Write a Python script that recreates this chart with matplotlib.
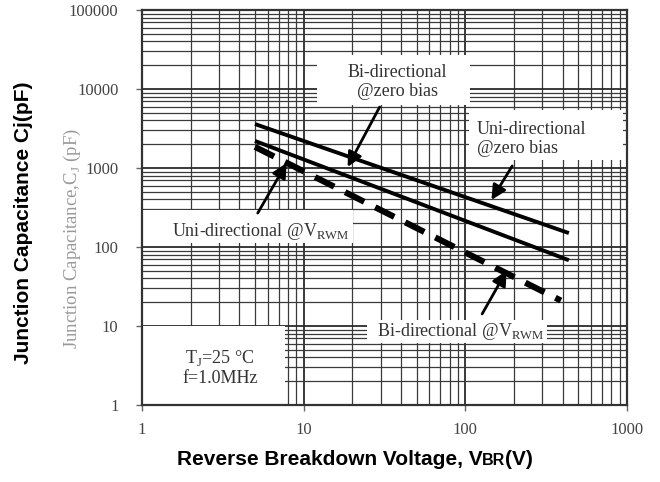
import numpy as np
import matplotlib
matplotlib.use("Agg")
import matplotlib.pyplot as plt
from matplotlib.patches import Rectangle
from matplotlib.ticker import LogLocator, NullFormatter, FixedLocator, FixedFormatter

# data
vbr_zero = [5, 437]
uni_zero_bias = [3600, 150]
bi_zero_bias = [2200, 68]
vbr_rwm = [5, 390]
cap_rwm = [1850, 21]

x_ticks = [1, 10, 100, 1000]
x_tick_labels = ["1", "10", "100", "1000"]
y_ticks = [1, 10, 100, 1000, 10000, 100000]
y_tick_labels = ["1", "10", "100", "1000", "10000", "100000"]

serif = "Liberation Serif"
sans = "Liberation Sans"
plt.rcParams["font.family"] = serif

fig = plt.figure(figsize=(6.6, 4.82), dpi=100)
ax = fig.add_axes([142 / 660, 77 / 482, 485 / 660, 395 / 482])
ax.set_xscale("log")
ax.set_yscale("log")
ax.set_xlim(1, 1000)
ax.set_ylim(1, 100000)

ax.xaxis.set_major_locator(FixedLocator(x_ticks))
ax.yaxis.set_major_locator(FixedLocator(y_ticks))
ax.xaxis.set_major_formatter(FixedFormatter(x_tick_labels))
ax.yaxis.set_major_formatter(FixedFormatter(y_tick_labels))
ax.xaxis.set_minor_locator(LogLocator(base=10, subs=np.arange(2, 10)))
ax.yaxis.set_minor_locator(LogLocator(base=10, subs=np.arange(2, 10)))
ax.xaxis.set_minor_formatter(NullFormatter())
ax.yaxis.set_minor_formatter(NullFormatter())
ax.tick_params(which="major", direction="out", length=4, width=1, color="#666666",
               labelsize=12, labelcolor="#444444")
ax.tick_params(axis="y", which="major", pad=13)
ax.tick_params(axis="x", which="major", pad=8)
ax.tick_params(which="minor", length=0)

ax.grid(True, which="major", color="#2a2a2a", lw=1.3)
ax.grid(True, which="minor", color="#3a3a3a", lw=0.9)
ax.set_axisbelow(True)
for s in ax.spines.values():
    s.set_color("#333333")
    s.set_linewidth(1.6)

# white label patches over the grid (axes fraction)
boxes = [
    (0.0, 0.0, 0.295, 0.20),
    (0.361, 0.759, 0.315, 0.127),
    (0.674, 0.62, 0.318, 0.127),
    (0.0, 0.41, 0.435, 0.084),
    (0.464, 0.157, 0.371, 0.058),
]
for bx, by, bw, bh in boxes:
    ax.add_patch(Rectangle((bx, by), bw, bh, transform=ax.transAxes,
                           facecolor="white", edgecolor="none", zorder=1.5))

ax.plot(vbr_zero, uni_zero_bias, color="black", lw=2.8, solid_capstyle="butt", zorder=3)
ax.plot(vbr_zero, bi_zero_bias, color="black", lw=2.8, solid_capstyle="butt", zorder=3)
ax.plot(vbr_rwm, cap_rwm, color="black", lw=4.4, dashes=(3.5, 2), zorder=3)

txt = dict(fontfamily=serif, fontsize=13, color="#333333", zorder=4)
ax.text(0.526, 0.818, "Bi-directional\n@zero bias", transform=ax.transAxes,
        ha="center", va="center", linespacing=1.2, **txt)
ax.text(0.691, 0.673, "Uni-directional\n@zero bias", transform=ax.transAxes,
        ha="left", va="center", linespacing=1.2, **txt)
ax.text(0.062, 0.438, "Uni-directional @V$_{\\mathregular{RWM}}$", transform=ax.transAxes,
        ha="left", va="center", **txt)
ax.text(0.485, 0.185, "Bi-directional @V$_{\\mathregular{RWM}}$", transform=ax.transAxes,
        ha="left", va="center", **txt)
ax.text(0.161, 0.096, "T$_{\\mathregular{J}}$=25 °C\nf=1.0MHz", transform=ax.transAxes,
        ha="center", va="center", linespacing=1.15, **txt)

arrow = dict(arrowstyle="-|>", color="black", lw=2, mutation_scale=22, shrinkA=0, shrinkB=0)
ax.annotate("", xy=(18.7, 1030), xytext=(29.5, 5900), arrowprops=arrow, zorder=5)
ax.annotate("", xy=(145, 394), xytext=(195, 1060), arrowprops=arrow, zorder=5)
ax.annotate("", xy=(7.85, 1157), xytext=(5.2, 269), arrowprops=arrow, zorder=5)
ax.annotate("", xy=(180, 50), xytext=(127, 14.2), arrowprops=arrow, zorder=5)

# original (grey) y label
fig.text(0.109, 0.506, "Junction Capacitance,C$_{\\mathregular{J}}$ (pF)", rotation=90,
         ha="center", va="center", fontfamily=serif, fontsize=13.5, color="#999999")

# bold overlay labels
fig.text(0.036, 0.537, "Junction Capacitance Cj(pF)", rotation=90, ha="center", va="center",
         fontfamily=sans, fontweight="bold", fontsize=15, color="black")

fig.canvas.draw()
r = fig.canvas.get_renderer()
parts = [("Reverse Breakdown Voltage, V", 15), ("BR", 11.5), ("(V)", 15)]
objs = []
for s, fs in parts:
    t = fig.text(0, 0.036, s, ha="left", va="baseline", fontfamily=sans,
                 fontweight="bold", fontsize=fs, color="black")
    objs.append(t)
widths = [t.get_window_extent(r).width for t in objs]
total = sum(widths)
start = 355 - total / 2
for t, w in zip(objs, widths):
    t.set_x(start / 660)
    start += w

fig.savefig("out.png", dpi=100)
